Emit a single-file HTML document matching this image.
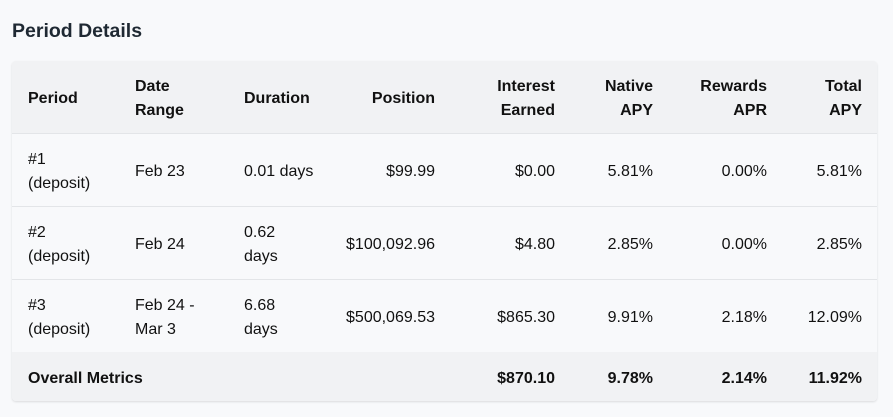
<!DOCTYPE html>
<html><head><meta charset="utf-8"><style>
body{margin:0;width:893px;height:417px;background:#f8f9fb;font-family:"Liberation Sans",Arial,sans-serif;color:#111;overflow:hidden;position:relative}
h2{position:absolute;left:12px;top:20px;margin:0;font-size:19.5px;font-weight:bold;color:#1f2933}
.tbl{position:absolute;left:12px;top:61px;width:865px;height:340px;border-radius:4px;background:#f8f9fb;box-shadow:0 1px 2px rgba(0,0,0,.12);overflow:hidden}
.row{position:absolute;left:0;width:865px;border-bottom:1px solid #e3e5e8}
.hd{top:0;height:72px;background:#f1f2f4;font-weight:bold}
.ft{top:291px;height:49px;background:#f1f2f4;font-weight:bold;border-bottom:none}
.c{position:absolute;top:calc(50% + 2px);transform:translateY(-50%);font-size:16px;line-height:24px;white-space:nowrap}
.r{text-align:right}
</style></head><body>
<h2>Period Details</h2>
<div class="tbl">
<div class="row hd">
<div class="c" style="left:16px">Period</div>
<div class="c" style="left:123px">Date<br>Range</div>
<div class="c" style="left:232px">Duration</div>
<div class="c r" style="right:442px">Position</div>
<div class="c r" style="right:322px">Interest<br>Earned</div>
<div class="c r" style="right:224px">Native<br>APY</div>
<div class="c r" style="right:110px">Rewards<br>APR</div>
<div class="c r" style="right:15px">Total<br>APY</div>
</div>
<div class="row" style="top:73px;height:72px">
<div class="c" style="left:16px">#1<br>(deposit)</div>
<div class="c" style="left:123px">Feb 23</div>
<div class="c" style="left:232px">0.01 days</div>
<div class="c r" style="right:442px">$99.99</div>
<div class="c r" style="right:322px">$0.00</div>
<div class="c r" style="right:224px">5.81%</div>
<div class="c r" style="right:110px">0.00%</div>
<div class="c r" style="right:15px">5.81%</div>
</div>
<div class="row" style="top:146px;height:72px">
<div class="c" style="left:16px">#2<br>(deposit)</div>
<div class="c" style="left:123px">Feb 24</div>
<div class="c" style="left:232px">0.62<br>days</div>
<div class="c r" style="right:442px">$100,092.96</div>
<div class="c r" style="right:322px">$4.80</div>
<div class="c r" style="right:224px">2.85%</div>
<div class="c r" style="right:110px">0.00%</div>
<div class="c r" style="right:15px">2.85%</div>
</div>
<div class="row" style="top:219px;height:72px">
<div class="c" style="left:16px">#3<br>(deposit)</div>
<div class="c" style="left:123px">Feb 24 -<br>Mar 3</div>
<div class="c" style="left:232px">6.68<br>days</div>
<div class="c r" style="right:442px">$500,069.53</div>
<div class="c r" style="right:322px">$865.30</div>
<div class="c r" style="right:224px">9.91%</div>
<div class="c r" style="right:110px">2.18%</div>
<div class="c r" style="right:15px">12.09%</div>
</div>
<div class="row ft">
<div class="c" style="left:16px">Overall Metrics</div>
<div class="c r" style="right:322px">$870.10</div>
<div class="c r" style="right:224px">9.78%</div>
<div class="c r" style="right:110px">2.14%</div>
<div class="c r" style="right:15px">11.92%</div>
</div>
</div>
</body></html>
